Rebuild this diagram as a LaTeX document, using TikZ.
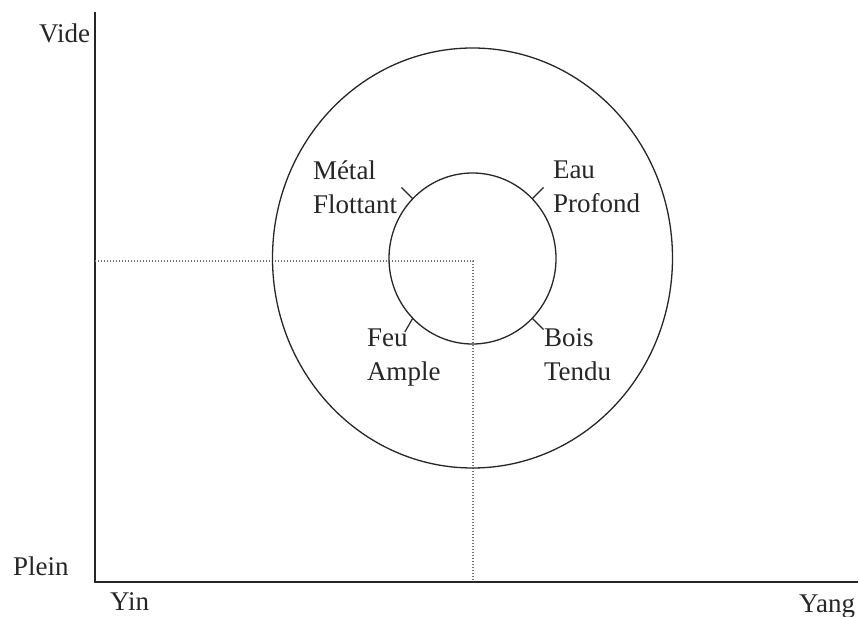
\documentclass[tikz,border=0pt]{standalone}
\usepackage{fontspec}
\setmainfont{Liberation Serif}
\usetikzlibrary{shapes.geometric}
\begin{document}
\begin{tikzpicture}[x=1pt,y=-1pt,
  axis/.style={line width=1.5pt,black!85},
  ring/.style={draw,ellipse,line width=1.3pt,black!85,inner sep=0pt,outer sep=0pt},
  guide/.style={line width=1.3pt,black!55,dash pattern=on 1.2pt off 1.8pt},
  tick/.style={line width=1.2pt,black!85},
  lbl/.style={inner sep=0pt,outer sep=0pt,align=left,font=\fontsize{27}{34}\selectfont,text=black!85}]
\useasboundingbox (0,0) rectangle (859,617);
% axes
\coordinate (top) at (95,12);
\coordinate (o) at (95,582);
\coordinate (right) at (858,582);
\draw[axis] (top) -- (o) -- (right);
% guides
\coordinate (gl) at (95,261);
\coordinate (c) at (473,261);
\coordinate (gb) at (473,582);
\draw[guide] (gl) -- (c) -- (gb);
% circles
\node[ring,minimum width=400pt,minimum height=420pt] (outer) at (472.5,258) {};
\node[ring,minimum width=167pt,minimum height=171pt] (inner) at (472.5,258.5) {};
% ticks
\draw[tick] (inner.135) -- ++(135:16pt);
\draw[tick] (inner.45) -- ++(45:16pt);
\draw[tick] (inner.225) -- ++(240:16pt);
\draw[tick] (inner.315) -- ++(315:16pt);
% element labels
\node[lbl,anchor=north west] (metal) at (313,160.6) {Métal\\Flottant};
\node[lbl,anchor=north west] (eau) at (553,161) {Eau\\Profond};
\node[lbl,anchor=north west] (feu) at (367,329) {Feu\\Ample};
\node[lbl,anchor=north west] (bois) at (544,329) {Bois\\Tendu};
% axis labels
\node[lbl,anchor=base east] (vide) at (90,43) {Vide};
\node[lbl,anchor=base west] (plein) at (13,575) {Plein};
\node[lbl,anchor=base west] (yin) at (110,610) {Yin};
\node[lbl,anchor=base east] (yang) at (855,612) {Yang};
\end{tikzpicture}
\end{document}
